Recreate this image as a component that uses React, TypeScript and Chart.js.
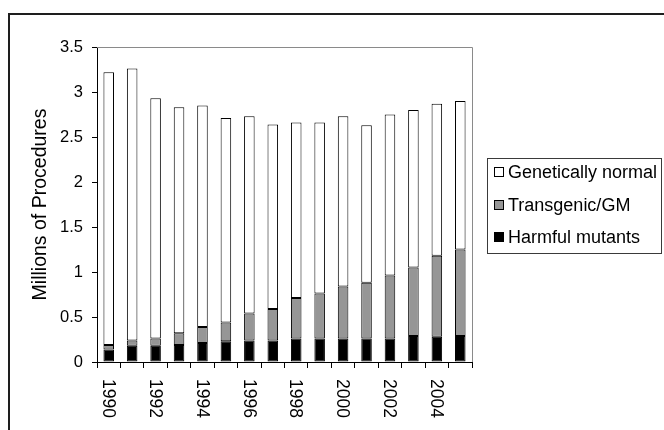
import React, { useEffect, useRef } from 'react';
import { Chart, registerables } from 'chart.js';

Chart.register(...registerables);

const years = ['1990', '1991', '1992', '1993', '1994', '1995', '1996', '1997', '1998', '1999', '2000', '2001', '2002', '2003', '2004', '2005'];
const labeledYears = ['1990', '1992', '1994', '1996', '1998', '2000', '2002', '2004'];

const harmfulMutants = [0.14, 0.18, 0.18, 0.19, 0.21, 0.23, 0.24, 0.24, 0.26, 0.26, 0.26, 0.26, 0.26, 0.29, 0.28, 0.29];
const transgenicGM = [0.05, 0.06, 0.08, 0.13, 0.18, 0.21, 0.30, 0.35, 0.45, 0.50, 0.58, 0.62, 0.70, 0.76, 0.90, 0.96];
const geneticallyNormal = [3.03, 3.02, 2.67, 2.51, 2.46, 2.27, 2.19, 2.05, 1.95, 1.90, 1.89, 1.75, 1.79, 1.75, 1.69, 1.65];

const seriesNames = ['Harmful mutants', 'Transgenic/GM', 'Genetically normal'];
const seriesColors = ['#000000', '#969696', '#ffffff'];

const yTitle = 'Millions of Procedures';
const FONT = 'Arial, "Liberation Sans", sans-serif';

const decorPlugin = {
  id: 'decor',
  beforeDraw(chart: any) {
    const ctx = chart.ctx;
    ctx.save();
    ctx.fillStyle = '#ffffff';
    ctx.fillRect(0, 0, chart.width, chart.height);
    ctx.restore();
  },
  afterDraw(chart: any) {
    const ctx = chart.ctx;
    const { left, right, top, bottom } = chart.chartArea;
    ctx.save();
    // outer border
    ctx.strokeStyle = '#1e1e1e';
    ctx.lineWidth = 2;
    ctx.strokeRect(9, 14, 720, 520);
    // plot frame top/right
    ctx.strokeStyle = '#8a8a8a';
    ctx.lineWidth = 1;
    ctx.beginPath();
    ctx.moveTo(left, Math.round(top) + 0.5);
    ctx.lineTo(Math.round(right) + 0.5, Math.round(top) + 0.5);
    ctx.lineTo(Math.round(right) + 0.5, bottom);
    ctx.stroke();

    // rotated x labels (reading top-down)
    const xs = chart.scales.x;
    ctx.fillStyle = '#000';
    ctx.font = `17.5px ${FONT}`;
    ctx.textAlign = 'left';
    ctx.textBaseline = 'middle';
    chart.data.labels.forEach((lab: string, i: number) => {
      if (!labeledYears.includes(lab)) return;
      const x = xs.getPixelForValue(i);
      ctx.save();
      ctx.translate(x - 1, bottom + 17);
      ctx.rotate(Math.PI / 2);
      ctx.fillText(lab, 0, 0);
      ctx.restore();
    });

    // legend
    ctx.strokeStyle = '#3a3a3a';
    ctx.lineWidth = 1;
    ctx.strokeRect(487.5, 158.5, 174, 95);
    const rows = [172, 205, 237];
    const ds = chart.data.datasets;
    const order = [2, 1, 0];
    ctx.font = `18px ${FONT}`;
    ctx.textBaseline = 'middle';
    order.forEach((di, r) => {
      const cy = rows[r];
      ctx.fillStyle = ds[di].backgroundColor;
      ctx.fillRect(494.5, cy - 4.5, 9, 9);
      ctx.strokeStyle = '#000';
      ctx.strokeRect(494.5, cy - 4.5, 9, 9);
      ctx.fillStyle = '#000';
      ctx.fillText(ds[di].label, 508, cy + 1);
    });
    ctx.restore();
  },
};

export default function App() {
  const ref = useRef<HTMLCanvasElement>(null);
  useEffect(() => {
    if (!ref.current) return;
    const seriesData = [harmfulMutants, transgenicGM, geneticallyNormal];
    const chart = new Chart(ref.current, {
      type: 'bar',
      data: {
        labels: years,
        datasets: seriesData.map((d, i) => ({
          label: seriesNames[i],
          data: d,
          backgroundColor: seriesColors[i],
          borderColor: '#000000',
          borderWidth: 1,
          borderSkipped: false,
          barPercentage: 0.45,
          categoryPercentage: 1,
        })),
      },
      options: {
        responsive: false,
        animation: false,
        devicePixelRatio: 1,
        layout: { padding: { left: 10, top: 47, right: 192, bottom: 0 } },
        plugins: { legend: { display: false }, tooltip: { enabled: false } },
        scales: {
          x: {
            stacked: true,
            offset: true,
            ticks: { display: false },
            grid: { display: true, offset: true, drawOnChartArea: false, drawTicks: true, tickLength: 6, color: '#000' },
            border: { display: true, color: '#000' },
            afterFit(s: any) { s.height = 68; },
          },
          y: {
            stacked: true,
            min: 0,
            max: 3.5,
            ticks: {
              stepSize: 0.5,
              color: '#000',
              padding: 9,
              font: { family: FONT, size: 16.5 },
              callback: (v: any) => String(v),
            },
            grid: { display: true, drawOnChartArea: false, drawTicks: true, tickLength: 5, color: '#000' },
            border: { display: true, color: '#000' },
            title: {
              display: true,
              text: yTitle,
              color: '#000',
              font: { family: FONT, size: 19.5 },
              padding: { top: 19, bottom: 0 },
            },
            afterFit(s: any) { s.width = 87; },
          },
        },
      },
      plugins: [decorPlugin],
    });
    return () => chart.destroy();
  }, []);
  return (
    <div style={{ position: 'absolute', left: 0, top: 0, width: 664, height: 430 }}>
      <canvas ref={ref} width={664} height={430} style={{ display: 'block' }} />
    </div>
  );
}
